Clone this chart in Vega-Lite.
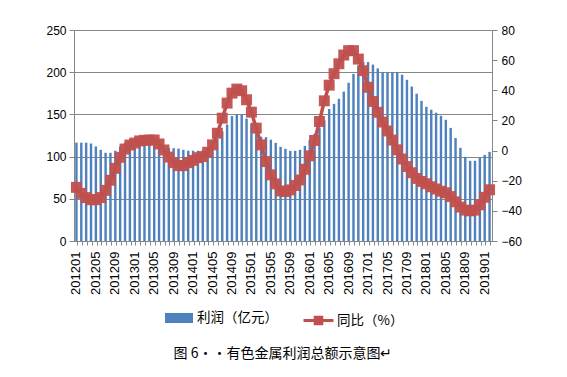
{
  "$schema": "https://vega.github.io/schema/vega-lite/v6.json",
  "width": 418,
  "height": 211,
  "autosize": {"type": "none"},
  "padding": {"left": 74, "top": 30, "right": 75, "bottom": 136},
  "background": "white",
  "config": {
    "view": {"stroke": null},
    "font": "Liberation Sans",
    "axis": {
      "domainColor": "#868686",
      "tickColor": "#868686",
      "gridColor": "#868686",
      "gridWidth": 1,
      "domainWidth": 1,
      "labelColor": "#000000",
      "labelFont": "Liberation Sans",
      "labelFontSize": 12,
      "title": null
    },
    "legend": {"padding": 0, "labelFont": "Noto Sans CJK SC", "labelFontSize": 13.5, "labelColor": "#000000"}
  },
  "title": {
    "text": "图 6··有色金属利润总额示意图↵",
    "orient": "bottom",
    "anchor": "middle",
    "frame": "group",
    "offset": 17,
    "font": "Noto Sans CJK SC",
    "fontSize": 14,
    "fontWeight": "normal",
    "color": "#000000"
  },
  "data": {
    "values": [
      {"m": "201201", "profit": 116.5, "yoy": -24.4},
      {"m": "201202", "profit": 116.5, "yoy": -28.4},
      {"m": "201203", "profit": 116.5, "yoy": -31.2},
      {"m": "201204", "profit": 115.5, "yoy": -32.6},
      {"m": "201205", "profit": 112, "yoy": -32.6},
      {"m": "201206", "profit": 108, "yoy": -31.2},
      {"m": "201207", "profit": 104.5, "yoy": -26.4},
      {"m": "201208", "profit": 104.5, "yoy": -19.7},
      {"m": "201209", "profit": 107, "yoy": -11.8},
      {"m": "201210", "profit": 112, "yoy": -4.5},
      {"m": "201211", "profit": 116.5, "yoy": 1.0},
      {"m": "201212", "profit": 120, "yoy": 3.7},
      {"m": "201301", "profit": 120, "yoy": 5.0},
      {"m": "201302", "profit": 119, "yoy": 6.4},
      {"m": "201303", "profit": 117, "yoy": 6.8},
      {"m": "201304", "profit": 115, "yoy": 7.0},
      {"m": "201305", "profit": 113, "yoy": 7.0},
      {"m": "201306", "profit": 111, "yoy": 4.4},
      {"m": "201307", "profit": 110, "yoy": 0.4},
      {"m": "201308", "profit": 110, "yoy": -4.3},
      {"m": "201309", "profit": 110, "yoy": -8.0},
      {"m": "201310", "profit": 109.5, "yoy": -10.0},
      {"m": "201311", "profit": 108, "yoy": -10.0},
      {"m": "201312", "profit": 107, "yoy": -8.0},
      {"m": "201401", "profit": 107, "yoy": -6.5},
      {"m": "201402", "profit": 107, "yoy": -4.7},
      {"m": "201403", "profit": 107.5, "yoy": -4.0},
      {"m": "201404", "profit": 110, "yoy": -1.1},
      {"m": "201405", "profit": 114, "yoy": 3.8},
      {"m": "201406", "profit": 121, "yoy": 11.5},
      {"m": "201407", "profit": 130, "yoy": 21.5},
      {"m": "201408", "profit": 138, "yoy": 31.5},
      {"m": "201409", "profit": 148, "yoy": 38.1},
      {"m": "201410", "profit": 150, "yoy": 40.8},
      {"m": "201411", "profit": 150, "yoy": 39.7},
      {"m": "201412", "profit": 145, "yoy": 33.7},
      {"m": "201501", "profit": 139, "yoy": 25.5},
      {"m": "201502", "profit": 131, "yoy": 14.9},
      {"m": "201503", "profit": 123.5, "yoy": 3.8},
      {"m": "201504", "profit": 123, "yoy": -7.3},
      {"m": "201505", "profit": 120, "yoy": -16.1},
      {"m": "201506", "profit": 116.3, "yoy": -22.1},
      {"m": "201507", "profit": 111.6, "yoy": -26.8},
      {"m": "201508", "profit": 109.2, "yoy": -27.2},
      {"m": "201509", "profit": 106.8, "yoy": -26.1},
      {"m": "201510", "profit": 106.8, "yoy": -23.2},
      {"m": "201511", "profit": 108, "yoy": -19.5},
      {"m": "201512", "profit": 112.7, "yoy": -12.4},
      {"m": "201601", "profit": 120, "yoy": -3.5},
      {"m": "201602", "profit": 127, "yoy": 6.7},
      {"m": "201603", "profit": 134.5, "yoy": 19.3},
      {"m": "201604", "profit": 143, "yoy": 33.0},
      {"m": "201605", "profit": 156.5, "yoy": 43.4},
      {"m": "201606", "profit": 162.5, "yoy": 51.0},
      {"m": "201607", "profit": 168.5, "yoy": 57.6},
      {"m": "201608", "profit": 177, "yoy": 63.4},
      {"m": "201609", "profit": 187.5, "yoy": 66.3},
      {"m": "201610", "profit": 198, "yoy": 66.3},
      {"m": "201611", "profit": 208, "yoy": 60.7},
      {"m": "201612", "profit": 212, "yoy": 53.0},
      {"m": "201701", "profit": 212, "yoy": 42.0},
      {"m": "201702", "profit": 209, "yoy": 32.6},
      {"m": "201703", "profit": 204.5, "yoy": 25.4},
      {"m": "201704", "profit": 200.2, "yoy": 18.9},
      {"m": "201705", "profit": 200, "yoy": 13.0},
      {"m": "201706", "profit": 200, "yoy": 7.0},
      {"m": "201707", "profit": 200, "yoy": 0.5},
      {"m": "201708", "profit": 197, "yoy": -5.6},
      {"m": "201709", "profit": 191, "yoy": -10.6},
      {"m": "201710", "profit": 183, "yoy": -14.7},
      {"m": "201711", "profit": 174.5, "yoy": -18.5},
      {"m": "201712", "profit": 166, "yoy": -20.5},
      {"m": "201801", "profit": 159, "yoy": -22.0},
      {"m": "201802", "profit": 155.5, "yoy": -24.0},
      {"m": "201803", "profit": 152, "yoy": -25.5},
      {"m": "201804", "profit": 148.4, "yoy": -27.0},
      {"m": "201805", "profit": 143.6, "yoy": -28.0},
      {"m": "201806", "profit": 134, "yoy": -30.5},
      {"m": "201807", "profit": 122, "yoy": -34.0},
      {"m": "201808", "profit": 110.4, "yoy": -37.5},
      {"m": "201809", "profit": 99.7, "yoy": -39.5},
      {"m": "201810", "profit": 95, "yoy": -40.0},
      {"m": "201811", "profit": 95, "yoy": -39.5},
      {"m": "201812", "profit": 98.5, "yoy": -36.0},
      {"m": "201901", "profit": 102, "yoy": -31.0},
      {"m": "201902", "profit": 105.6, "yoy": -26.0}
    ]
  },
  "encoding": {
    "x": {
      "field": "m",
      "type": "ordinal",
      "sort": null,
      "scale": {"paddingInner": 0.5, "paddingOuter": 0.25},
      "axis": {
        "labelAngle": -90,
        "labelFontSize": 13,
        "labelOverlap": false,
        "labelExpr": "(toNumber(datum.value) % 100) % 4 == 1 ? datum.value : ''",
        "tickSize": 4,
        "labelPadding": 6,
        "bandPosition": 1,
        "grid": false
      }
    }
  },
  "layer": [
    {
      "mark": {"type": "bar"},
      "encoding": {
        "y": {
          "field": "profit",
          "type": "quantitative",
          "scale": {"domain": [0, 250], "nice": false},
          "axis": {"values": [0, 50, 100, 150, 200, 250], "grid": true, "tickSize": 5, "labelPadding": 3}
        },
        "color": {
          "datum": "利润（亿元）",
          "scale": {"range": ["#4F81BD"]},
          "legend": {
            "orient": "none",
            "legendX": 91,
            "legendY": 274,
            "title": null,
            "symbolType": "M-1,-0.36H1V0.36H-1Z",
            "symbolSize": 784,
            "symbolStrokeWidth": 0,
            "labelOffset": 4
          }
        }
      }
    },
    {
      "encoding": {
        "y": {
          "field": "yoy",
          "type": "quantitative",
          "scale": {"domain": [-60, 80], "nice": false},
          "axis": {"orient": "right", "values": [-60, -40, -20, 0, 20, 40, 60, 80], "grid": false, "tickSize": 5, "labelPadding": 4}
        }
      },
      "layer": [
        {
          "mark": {"type": "line", "strokeWidth": 3.5},
          "encoding": {
            "stroke": {
              "datum": "同比（%）",
              "scale": {"range": ["#C0504D"]},
              "legend": {
                "orient": "none",
                "legendX": 228,
                "legendY": 274,
                "title": null,
                "symbolType": "M-1,0H1M-0.22,-0.22H0.22V0.22H-0.22Z",
                "symbolSize": 900,
                "symbolStrokeWidth": 3,
                "symbolFillColor": "#C0504D",
                "labelOffset": 2
              }
            }
          }
        },
        {
          "mark": {"type": "point", "shape": "square", "filled": true, "size": 120, "color": "#C0504D", "opacity": 0.95},
          "encoding": {}
        }
      ]
    }
  ],
  "resolve": {"scale": {"y": "independent"}}
}
